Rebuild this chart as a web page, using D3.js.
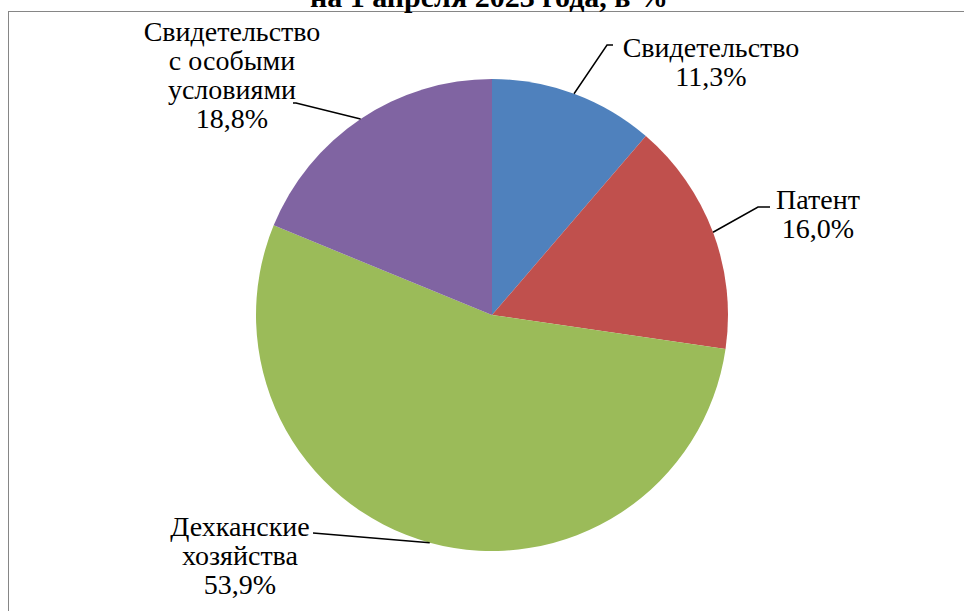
<!DOCTYPE html>
<html><head><meta charset="utf-8">
<script src="https://cdn.jsdelivr.net/npm/d3@7"></script>
<style>body{margin:0;background:#fff}svg{display:block}</style>
</head><body>
<svg id="c" width="964" height="611"></svg>
<script>
const categories = ["Свидетельство", "Патент", "Дехканские хозяйства", "Свидетельство с особыми условиями"];
const values = [11.3, 16.0, 53.9, 18.8];
const labelLines = [["Свидетельство"], ["Патент"], ["Дехканские", "хозяйства"], ["Свидетельство", "с особыми", "условиями"]];
const colors = ["#4F81BD", "#C0504D", "#9BBB59", "#8064A2"];
const titleText = "на 1 апреля 2023 года, в %";

// layout (not data)
const cx = 492, cy = 315, R = 236;
const labelPos = [[711, 57], [818, 209], [240, 536], [232, 41]]; // first-line baseline
const elbows = [[[607, 45], [613, 45]], [[758, 207], [770, 207]], [[313, 533], [313, 533]], [[296, 103], [293, 103]]];
const lineH = 29;
const font = "Liberation Serif";

const svg = d3.select("#c");
svg.append("rect").attr("x", 8.5).attr("y", 11.5).attr("width", 1000).attr("height", 700)
  .attr("fill", "#fff").attr("stroke", "#868686").attr("stroke-width", 1);

svg.append("text").attr("x", 489).attr("y", 7).attr("text-anchor", "middle")
  .style("font-family", font).style("font-weight", "bold").style("font-size", "30px").text(titleText);

const pie = d3.pie().sort(null).value(d => d)(values);
const arc = d3.arc().innerRadius(0).outerRadius(R);
const g = svg.append("g").attr("transform", `translate(${cx},${cy})`);
g.selectAll("path").data(pie).join("path").attr("d", arc).attr("fill", (d, i) => colors[i]);

pie.forEach((d, i) => {
  const a = (d.startAngle + d.endAngle) / 2;
  const sx = cx + R * Math.sin(a), sy = cy - R * Math.cos(a);
  const pts = [[sx, sy], ...elbows[i]];
  svg.append("path").attr("d", d3.line()(pts)).attr("fill", "none").attr("stroke", "#000").attr("stroke-width", 1.5);
  const lines = [...labelLines[i], d3.format(".1f")(d.data).replace(".", ",") + "%"];
  const t = svg.append("text").style("font-family", font).style("font-size", "28px").attr("text-anchor", "middle").attr("fill", "#000");
  lines.forEach((s, k) => t.append("tspan").attr("x", labelPos[i][0]).attr("y", labelPos[i][1] + k * lineH).text(s));
});
</script>
</body></html>
